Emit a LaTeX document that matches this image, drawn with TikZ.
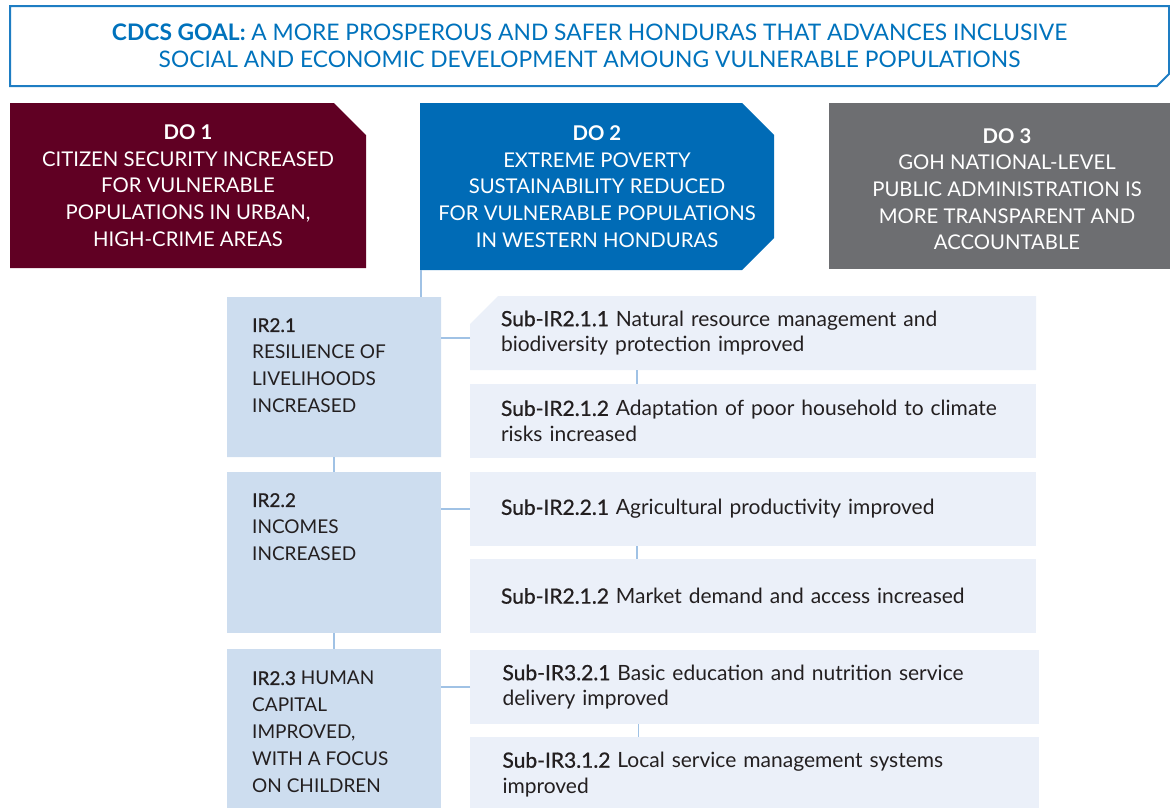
\documentclass[tikz,border=0pt]{standalone}
\usepackage{fontspec}
\setmainfont{Lato}
\newfontfamily\medfont[FakeBold=0.8]{Lato}
\usetikzlibrary{shapes.misc,positioning}

\definecolor{goalblue}{RGB}{0,114,188}
\definecolor{goalline}{RGB}{30,125,195}
\definecolor{doonered}{RGB}{96,0,35}
\definecolor{dotwoblue}{RGB}{0,107,182}
\definecolor{dothreegrey}{RGB}{109,110,113}
\definecolor{irblue}{RGB}{205,221,239}
\definecolor{subblue}{RGB}{235,240,249}
\definecolor{linkblue}{RGB}{160,194,229}
\definecolor{ink}{RGB}{35,31,32}

\tikzset{
  box/.style={chamfered rectangle, chamfered rectangle sep=16pt,
    inner sep=0pt, outer sep=0pt, anchor=north west},
  goalbox/.style={box, chamfered rectangle corners=south east,
    chamfered rectangle sep=6pt, draw=goalline, line width=2pt,
    minimum width=1159pt, minimum height=80pt, text=goalblue,
    align=center, font=\fontsize{22.8}{27}\selectfont},
  dobox/.style={box, text=white, align=center,
    font=\fontsize{20.3}{26.6}\selectfont},
  irbox/.style={box, fill=irblue, minimum width=214pt},
  irtext/.style={anchor=north west, inner sep=0pt, align=left, text=ink,
    font=\fontsize{19}{26.8}\selectfont},
  subbox/.style={box, fill=subblue, minimum width=566pt, minimum height=74pt,
    text width=504pt, inner xsep=31pt, align=left, text=ink,
    font=\fontsize{21}{25.5}\selectfont},
  link/.style={draw=linkblue, line width=1.5pt},
}

\begin{document}
\begin{tikzpicture}[x=1pt,y=-1pt]
\useasboundingbox (0,0) rectangle (1170,807);
\clip (0,0) rectangle (1170,807);

% goal
\node[goalbox] (goal) at (10,6) {\textbf{CDCS GOAL:} A MORE PROSPEROUS AND SAFER HONDURAS THAT ADVANCES INCLUSIVE\\SOCIAL AND ECONOMIC DEVELOPMENT AMOUNG VULNERABLE POPULATIONS};

% development objectives
\node[dobox, fill=doonered, chamfered rectangle corners=north east,
  minimum width=356pt, minimum height=165pt] (do1) at (10,103)
  {\textbf{DO 1}\\CITIZEN SECURITY INCREASED\\FOR VULNERABLE\\POPULATIONS IN URBAN,\\HIGH-CRIME AREAS};
\node[dobox, fill=dotwoblue, chamfered rectangle corners={north east,south east},
  minimum width=354pt, minimum height=167pt] (do2) at (420,103)
  {\textbf{DO 2}\\EXTREME POVERTY\\SUSTAINABILITY REDUCED\\FOR VULNERABLE POPULATIONS\\IN WESTERN HONDURAS};
\node[dobox, rectangle, fill=dothreegrey,
  minimum width=356pt, minimum height=166pt] (do3) at (829,103)
  {\rule{0pt}{21pt}\textbf{DO 3}\\GOH NATIONAL-LEVEL\\PUBLIC ADMINISTRATION IS\\MORE TRANSPARENT AND\\ACCOUNTABLE};

% intermediate results
\node[irbox, chamfered rectangle corners=north east, minimum height=160pt] (ir21) at (227,297) {};
\node[irbox, rectangle, minimum height=161pt] (ir22) at (227,472) {};
\node[irbox, rectangle, minimum height=170pt] (ir23) at (227,649) {};

\node[irtext] at ([shift={(25,21)}]ir21.north west) {{\medfont IR2.1}\\RESILIENCE OF\\LIVELIHOODS\\INCREASED};
\node[irtext] at ([shift={(25,21)}]ir22.north west) {{\medfont IR2.2}\\INCOMES\\INCREASED};
\node[irtext] at ([shift={(25,22)}]ir23.north west) {{\medfont IR2.3} HUMAN\\CAPITAL\\IMPROVED,\\WITH A FOCUS\\ON CHILDREN};

% sub results
\node[subbox, chamfered rectangle corners=north west, anchor=south west,
  inner xsep=15pt, chamfered rectangle ysep=12pt] (s211) at (470,370)
  {{\medfont Sub-IR2.1.1} Natural resource management and\\biodiversity protection improved};
\node[subbox, rectangle] (s212) at (470,384)
  {{\medfont Sub-IR2.1.2} Adaptation of poor household to climate\\risks increased};
\node[subbox, rectangle] (s221) at (470,472)
  {{\medfont Sub-IR2.2.1} Agricultural productivity improved};
\node[subbox, rectangle] (s222) at (470,559)
  {{\medfont Sub-IR2.1.2} Market demand and access increased};
\node[subbox, rectangle, minimum width=569pt] (s321) at (470,650)
  {{\medfont Sub-IR3.2.1} Basic education and nutrition service\\delivery improved};
\node[subbox, rectangle, minimum width=569pt, minimum height=75pt] (s312) at (470,737)
  {{\medfont Sub-IR3.1.2} Local service management systems\\improved};

% connectors
\path (do2.west |- do2.south) ++(1,0) coordinate (d2foot);
\draw[link] (d2foot) -- (d2foot |- ir21.north);
\draw[link] (ir21.south) -- (ir22.north);
\draw[link] (ir22.south) -- (ir23.north);
\path ([yshift=-5pt]s211.west) coordinate (s211in);
\draw[link] (s211in) -- (s211in -| ir21.east);
\draw[link] (s221.west) -- (s221.west -| ir22.east);
\draw[link] (s321.west) -- (s321.west -| ir23.east);
\foreach \a/\b in {s211/s212, s221/s222, s321/s312}
  \draw[link] ([xshift=-116pt]\a.south) -- ([xshift=-116pt]\b.north);
\end{tikzpicture}
\end{document}
